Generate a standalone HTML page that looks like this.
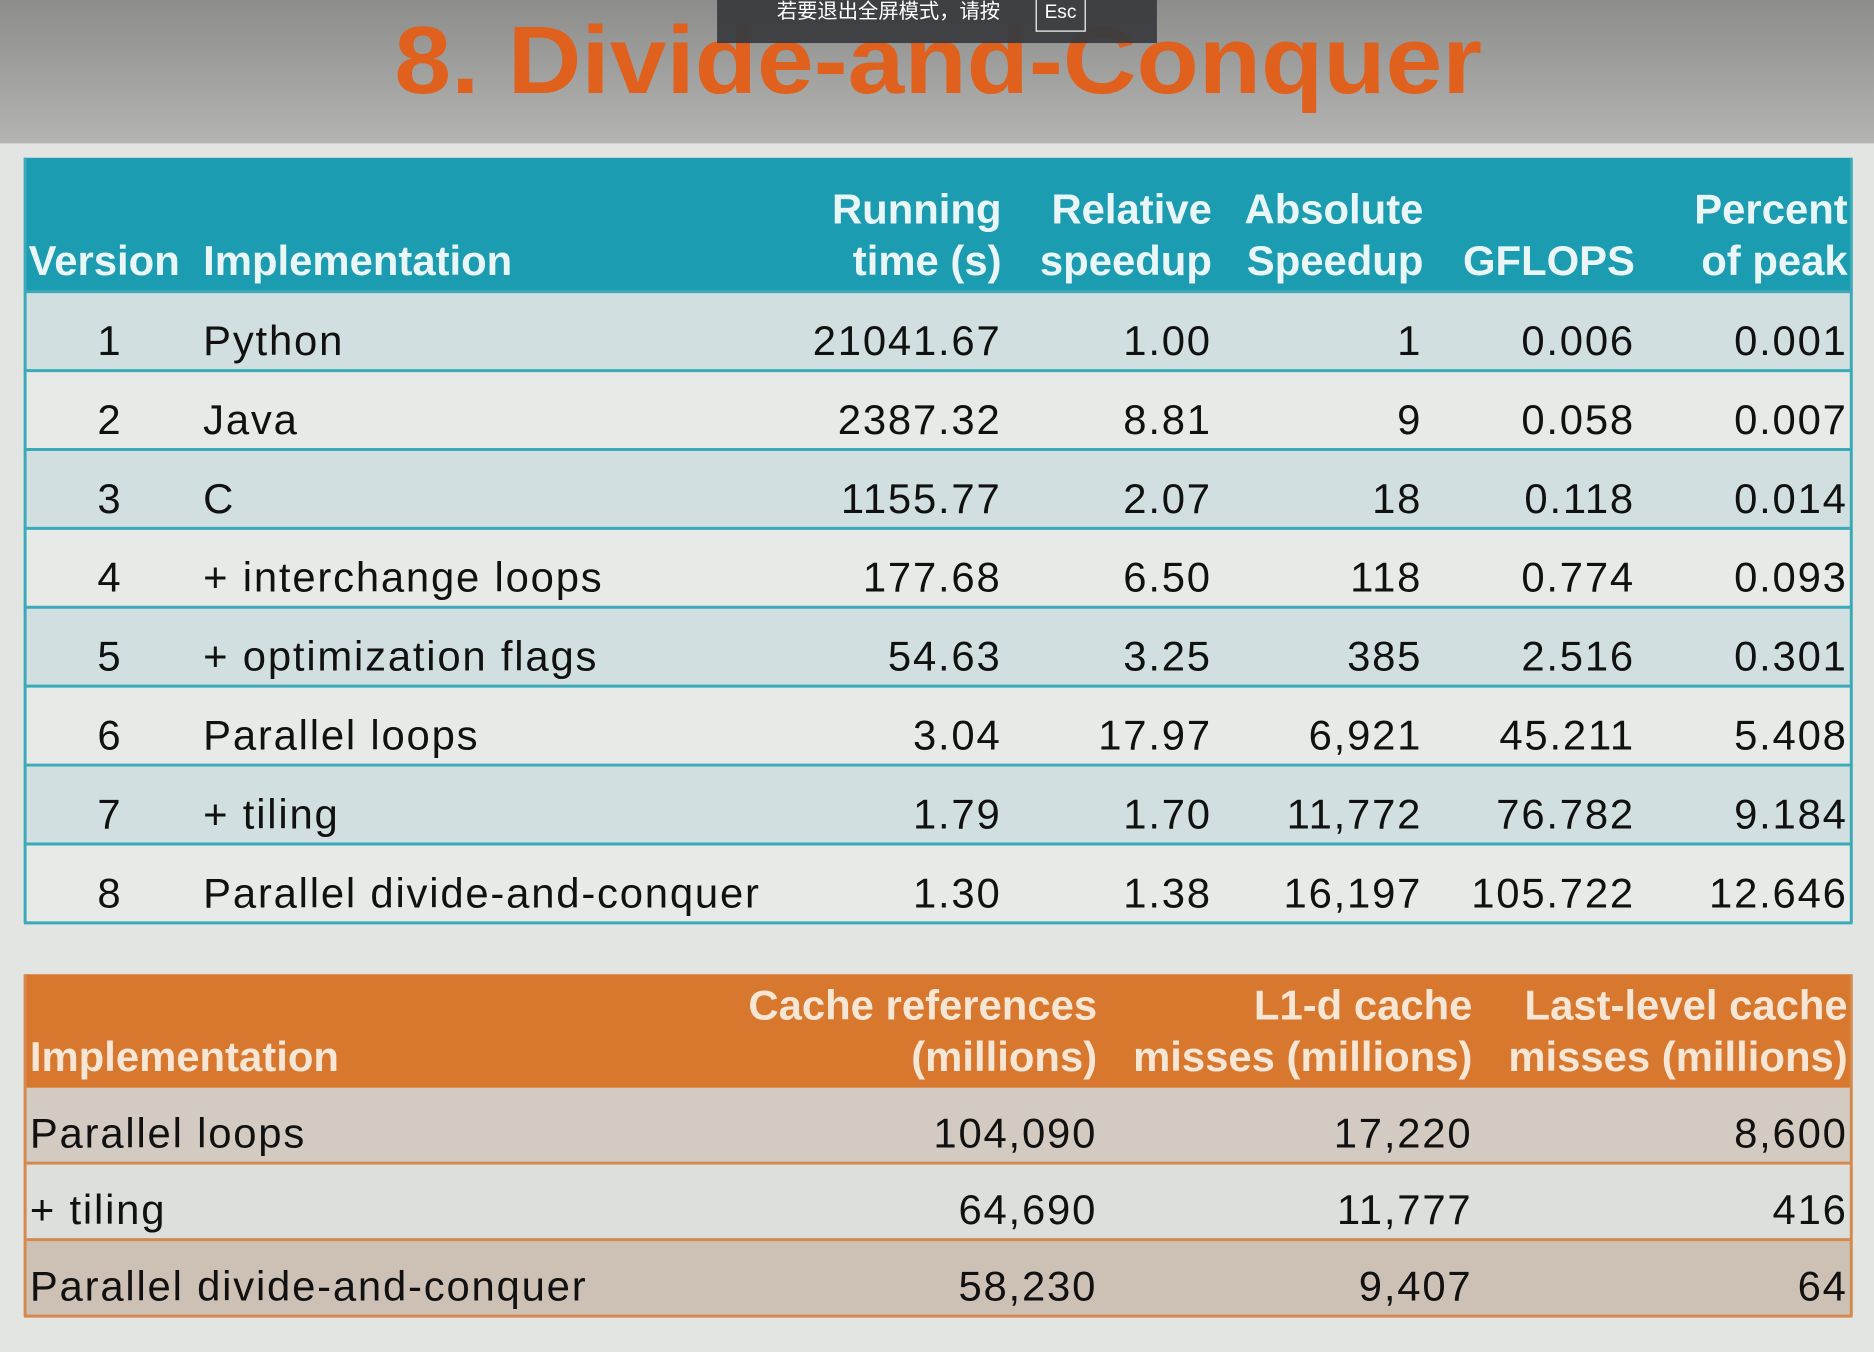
<!DOCTYPE html>
<html><head><meta charset="utf-8"><style>
html,body{margin:0;padding:0;width:1874px;height:1352px;overflow:hidden;background:#e3e5e2}
svg{display:block}
text{font-family:"Liberation Sans","Noto Sans CJK SC",sans-serif}
.h{fill:#eaf6f6;font-size:35px;font-weight:bold}
.ho{fill:#f6e6d6;font-size:35px;font-weight:bold}
.c{fill:#111;font-size:35px;letter-spacing:1.5px}
</style></head><body>
<svg width="1874" height="1352" viewBox="0 0 1568 1131" preserveAspectRatio="none">
<defs><linearGradient id="g" x1="0" y1="0" x2="0" y2="1"><stop offset="0" stop-color="#8c8c8b"/><stop offset="1" stop-color="#b4b4b2"/></linearGradient></defs>
<rect x="0" y="0" width="1568" height="120" fill="url(#g)"/>
<rect x="0" y="120" width="1568" height="1011" fill="#e3e5e2"/>
<text x="330" y="78" font-size="80" font-weight="bold" fill="#e0601e" textLength="910" lengthAdjust="spacingAndGlyphs">8. Divide-and-Conquer</text>
<g>
<rect x="600" y="0" width="368" height="36" fill="#3a3c40" opacity="0.95"/>
<text x="650" y="15" font-size="17" fill="#fff">若要退出全屏模式，请按</text>
<rect x="867" y="-4" width="41" height="30" fill="none" stroke="#fff" stroke-width="1"/>
<text x="874" y="15" font-size="16" fill="#fff">Esc</text>
</g>
<g>
<rect x="20" y="132" width="1530" height="112" fill="#1b9cb1"/>
<rect x="20" y="244" width="1530" height="66" fill="#d2dfe0"/>
<rect x="20" y="310" width="1530" height="66" fill="#e7eae7"/>
<rect x="20" y="376" width="1530" height="66" fill="#d2dfe0"/>
<rect x="20" y="442" width="1530" height="66" fill="#e7eae7"/>
<rect x="20" y="508" width="1530" height="66" fill="#d2dfe0"/>
<rect x="20" y="574" width="1530" height="66" fill="#e7eae7"/>
<rect x="20" y="640" width="1530" height="66" fill="#d2dfe0"/>
<rect x="20" y="706" width="1530" height="66" fill="#e7eae7"/>
<g stroke="#3aaab8" stroke-width="2.5">
<line x1="20" y1="244" x2="1550" y2="244"/><line x1="20" y1="310" x2="1550" y2="310"/><line x1="20" y1="376" x2="1550" y2="376"/><line x1="20" y1="442" x2="1550" y2="442"/><line x1="20" y1="508" x2="1550" y2="508"/><line x1="20" y1="574" x2="1550" y2="574"/><line x1="20" y1="640" x2="1550" y2="640"/><line x1="20" y1="706" x2="1550" y2="706"/><line x1="20" y1="772" x2="1550" y2="772"/>
<line x1="21" y1="132" x2="21" y2="772"/><line x1="1549" y1="132" x2="1549" y2="772"/>
</g>
<g class="h">
<text x="24" y="230">Version</text><text x="170" y="230">Implementation</text>
<text x="838" y="187" text-anchor="end">Running</text><text x="838" y="230" text-anchor="end">time (s)</text>
<text x="1014" y="187" text-anchor="end">Relative</text><text x="1014" y="230" text-anchor="end">speedup</text>
<text x="1191" y="187" text-anchor="end">Absolute</text><text x="1191" y="230" text-anchor="end">Speedup</text>
<text x="1368" y="230" text-anchor="end">GFLOPS</text>
<text x="1546" y="187" text-anchor="end">Percent</text><text x="1546" y="230" text-anchor="end">of peak</text>
</g>
<g class="c">
<g><text x="92" y="297" text-anchor="middle">1</text><text x="170" y="297">Python</text><text x="838" y="297" text-anchor="end">21041.67</text><text x="1014" y="297" text-anchor="end">1.00</text><text x="1190" y="297" text-anchor="end">1</text><text x="1368" y="297" text-anchor="end">0.006</text><text x="1546" y="297" text-anchor="end">0.001</text></g>
<g><text x="92" y="363" text-anchor="middle">2</text><text x="170" y="363">Java</text><text x="838" y="363" text-anchor="end">2387.32</text><text x="1014" y="363" text-anchor="end">8.81</text><text x="1190" y="363" text-anchor="end">9</text><text x="1368" y="363" text-anchor="end">0.058</text><text x="1546" y="363" text-anchor="end">0.007</text></g>
<g><text x="92" y="429" text-anchor="middle">3</text><text x="170" y="429">C</text><text x="838" y="429" text-anchor="end">1155.77</text><text x="1014" y="429" text-anchor="end">2.07</text><text x="1190" y="429" text-anchor="end">18</text><text x="1368" y="429" text-anchor="end">0.118</text><text x="1546" y="429" text-anchor="end">0.014</text></g>
<g><text x="92" y="495" text-anchor="middle">4</text><text x="170" y="495">+ interchange loops</text><text x="838" y="495" text-anchor="end">177.68</text><text x="1014" y="495" text-anchor="end">6.50</text><text x="1190" y="495" text-anchor="end">118</text><text x="1368" y="495" text-anchor="end">0.774</text><text x="1546" y="495" text-anchor="end">0.093</text></g>
<g><text x="92" y="561" text-anchor="middle">5</text><text x="170" y="561">+ optimization flags</text><text x="838" y="561" text-anchor="end">54.63</text><text x="1014" y="561" text-anchor="end">3.25</text><text x="1190" y="561" text-anchor="end">385</text><text x="1368" y="561" text-anchor="end">2.516</text><text x="1546" y="561" text-anchor="end">0.301</text></g>
<g><text x="92" y="627" text-anchor="middle">6</text><text x="170" y="627">Parallel loops</text><text x="838" y="627" text-anchor="end">3.04</text><text x="1014" y="627" text-anchor="end">17.97</text><text x="1190" y="627" text-anchor="end">6,921</text><text x="1368" y="627" text-anchor="end">45.211</text><text x="1546" y="627" text-anchor="end">5.408</text></g>
<g><text x="92" y="693" text-anchor="middle">7</text><text x="170" y="693">+ tiling</text><text x="838" y="693" text-anchor="end">1.79</text><text x="1014" y="693" text-anchor="end">1.70</text><text x="1190" y="693" text-anchor="end">11,772</text><text x="1368" y="693" text-anchor="end">76.782</text><text x="1546" y="693" text-anchor="end">9.184</text></g>
<g><text x="92" y="759" text-anchor="middle">8</text><text x="170" y="759">Parallel divide-and-conquer</text><text x="838" y="759" text-anchor="end">1.30</text><text x="1014" y="759" text-anchor="end">1.38</text><text x="1190" y="759" text-anchor="end">16,197</text><text x="1368" y="759" text-anchor="end">105.722</text><text x="1546" y="759" text-anchor="end">12.646</text></g>
</g>
</g>
<g>
<rect x="20" y="815" width="1530" height="95" fill="#d8782e"/>
<rect x="20" y="910" width="1530" height="64" fill="#d3cac2"/>
<rect x="20" y="974" width="1530" height="64" fill="#dcdfdc"/>
<rect x="20" y="1038" width="1530" height="64" fill="#cdc1b6"/>
<g stroke="#d48a4e" stroke-width="2.5">
<line x1="20" y1="973" x2="1550" y2="973"/><line x1="20" y1="1037" x2="1550" y2="1037"/><line x1="20" y1="1101" x2="1550" y2="1101"/>
<line x1="21" y1="815" x2="21" y2="1101"/><line x1="1549" y1="815" x2="1549" y2="1101"/>
</g>
<g class="ho">
<text x="25" y="896">Implementation</text>
<text x="918" y="853" text-anchor="end">Cache references</text><text x="918" y="896" text-anchor="end">(millions)</text>
<text x="1232" y="853" text-anchor="end">L1-d cache</text><text x="1232" y="896" text-anchor="end">misses (millions)</text>
<text x="1546" y="853" text-anchor="end">Last-level cache</text><text x="1546" y="896" text-anchor="end">misses (millions)</text>
</g>
<g class="c">
<g><text x="25" y="960">Parallel loops</text><text x="918" y="960" text-anchor="end">104,090</text><text x="1232" y="960" text-anchor="end">17,220</text><text x="1546" y="960" text-anchor="end">8,600</text></g>
<g><text x="25" y="1024">+ tiling</text><text x="918" y="1024" text-anchor="end">64,690</text><text x="1232" y="1024" text-anchor="end">11,777</text><text x="1546" y="1024" text-anchor="end">416</text></g>
<g><text x="25" y="1088">Parallel divide-and-conquer</text><text x="918" y="1088" text-anchor="end">58,230</text><text x="1232" y="1088" text-anchor="end">9,407</text><text x="1546" y="1088" text-anchor="end">64</text></g>
</g>
</g>
</svg>
</body></html>
